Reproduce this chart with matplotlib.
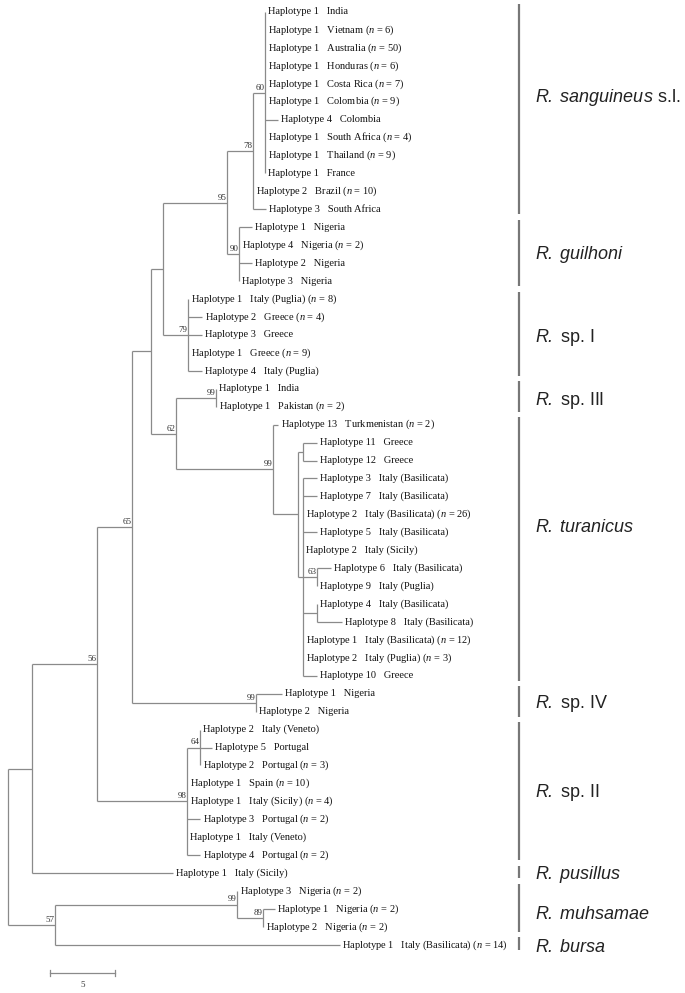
import matplotlib
matplotlib.use('Agg')
import matplotlib.pyplot as plt

plt.rcParams['font.family'] = ['Liberation Serif', 'DejaVu Serif']
plt.rcParams['mathtext.fontset'] = 'custom'
plt.rcParams['mathtext.rm'] = 'Liberation Serif'
plt.rcParams['mathtext.it'] = 'Liberation Serif:italic'
plt.rcParams['mathtext.sf'] = 'Liberation Sans:italic'

# --- leaves, top to bottom ---
HAPLO = [1, 1, 1, 1, 1, 1, 4, 1, 1, 1, 2, 3,
         1, 4, 2, 3,
         1, 2, 3, 1, 4,
         1, 1,
         13, 11, 12, 3, 7, 2, 5, 2, 6, 9, 4, 8, 1, 2, 10,
         1, 2,
         2, 5, 2, 1, 1, 3, 1, 4,
         1,
         3, 1, 2,
         1]
PLACE = ['India', 'Vietnam', 'Australia', 'Honduras', 'Costa Rica', 'Colombia', 'Colombia',
         'South Africa', 'Thailand', 'France', 'Brazil', 'South Africa',
         'Nigeria', 'Nigeria', 'Nigeria', 'Nigeria',
         'Italy (Puglia)', 'Greece', 'Greece', 'Greece', 'Italy (Puglia)',
         'India', 'Pakistan',
         'Turkmenistan', 'Greece', 'Greece', 'Italy (Basilicata)', 'Italy (Basilicata)',
         'Italy (Basilicata)', 'Italy (Basilicata)', 'Italy (Sicily)', 'Italy (Basilicata)',
         'Italy (Puglia)', 'Italy (Basilicata)', 'Italy (Basilicata)', 'Italy (Basilicata)',
         'Italy (Puglia)', 'Greece',
         'Nigeria', 'Nigeria',
         'Italy (Veneto)', 'Portugal', 'Portugal', 'Spain', 'Italy (Sicily)', 'Portugal',
         'Italy (Veneto)', 'Portugal',
         'Italy (Sicily)',
         'Nigeria', 'Nigeria', 'Nigeria',
         'Italy (Basilicata)']
N_COUNT = [None, 6, 50, 6, 7, 9, None, 4, 9, None, 10, None,
           None, 2, None, None,
           8, 4, None, 9, None,
           None, 2,
           2, None, None, None, None, 26, None, None, None, None, None, None, 12, 3, None,
           None, None,
           None, None, 3, 10, 4, 2, None, 2,
           None,
           2, 2, 2,
           14]
# distance of each leaf from the root (substitution units)
LEAF_DEPTH = [19.77, 19.77, 19.77, 19.77, 19.77, 19.77, 20.77, 19.77, 19.77, 19.77, 18.85, 19.85,
              18.77, 17.77, 18.77, 17.77,
              13.85, 14.92, 14.92, 13.85, 14.92,
              16.0, 16.0,
              20.8, 23.77, 23.77, 23.77, 23.77, 22.7, 23.77, 22.7, 24.85, 23.77, 23.77, 25.7,
              22.7, 22.7, 23.77,
              21.08, 19.1,
              14.77, 15.7, 14.77, 13.77, 13.77, 14.77, 13.77, 14.77,
              12.7,
              17.6, 20.5, 19.6,
              25.5]

# internal nodes: name, depth, children (leaf index or node name), bootstrap
NODES = [
    ('n60', 19.77, [0, 1, 2, 3, 4, 5, 6, 7, 8, 9], 60),
    ('n78', 18.85, ['n60', 10, 11], 78),
    ('nGui', 17.77, [12, 13, 14, 15], 90),
    ('n95', 16.85, ['n78', 'nGui'], 95),
    ('nSp1', 13.85, [16, 17, 18, 19, 20], 79),
    ('nC', 11.92, ['n95', 'nSp1'], None),
    ('nSp3', 16.0, [21, 22], 99),
    ('n1112', 22.7, [24, 25], None),
    ('n63', 23.77, [31, 32], 63),
    ('n48', 23.77, [33, 34], None),
    ('nPoly', 22.7, [26, 27, 28, 29, 30, 'n63', 'n48', 35, 36, 37], None),
    ('nT2', 22.3, ['n1112', 'nPoly'], None),
    ('nTur', 20.38, [23, 'nT2'], 99),
    ('n62', 12.92, ['nSp3', 'nTur'], 62),
    ('nB', 11.0, ['nC', 'n62'], None),
    ('nSp4', 19.1, [38, 39], 99),
    ('n65', 9.54, ['nB', 'nSp4'], 65),
    ('n64', 14.77, [40, 41, 42], 64),
    ('nSp2', 13.77, ['n64', 43, 44, 45, 46, 47], 98),
    ('n56', 6.85, ['n65', 'nSp2'], 56),
    ('nA', 1.85, ['n56', 48], None),
    ('n89', 19.6, [50, 51], 89),
    ('nMuh', 17.6, [49, 'n89'], 99),
    ('n57', 3.62, ['nMuh', 52], 57),
    ('root', 0.0, ['nA', 'n57'], None),
]

CLADES = [r'$\mathsf{R.\ sanguineus}$ s.l.', r'$\mathsf{R.\ guilhoni}$', r'$\mathsf{R.}$ sp. I',
          r'$\mathsf{R.}$ sp. III', r'$\mathsf{R.\ turanicus}$', r'$\mathsf{R.}$ sp. IV',
          r'$\mathsf{R.}$ sp. II', r'$\mathsf{R.\ pusillus}$', r'$\mathsf{R.\ muhsamae}$',
          r'$\mathsf{R.\ bursa}$']
CLADE_SIZE = [12, 4, 5, 2, 15, 2, 8, 1, 3, 1]
CLADE_LABEL_Y = [4.74, 13.49, 18.17, 21.63, 28.76, 38.57, 43.53, 48.1, 50.28, 52.17]

SCALE_LEN = 5

# --- layout (1 unit = 13 px, 1 leaf = 17.94 px) ---
W, H = 685, 993
PX_X = 13.0
PX_Y = 17.94
fig = plt.figure(figsize=(W / 100, H / 100), dpi=100)
fig.patch.set_facecolor('white')
ax = fig.add_axes([0, 0, 1, 1])
ax.set_xlim(-8 / PX_X, (W - 8) / PX_X)
ax.set_ylim((H - 12) / PX_Y, -12 / PX_Y)
ax.axis('off')

LINE = '#8a8a8a'
LW = 0.9

node_map = {n[0]: n for n in NODES}
pos = {}


def place(key):
    if isinstance(key, int):
        return LEAF_DEPTH[key], float(key)
    if key in pos:
        return pos[key]
    name, depth, kids, sup = node_map[key]
    ys = [place(k)[1] for k in kids]
    pos[key] = (depth, (ys[0] + ys[-1]) / 2)
    return pos[key]


place('root')

for name, depth, kids, sup in NODES:
    x, y = pos[name]
    kid_pos = [place(k) for k in kids]
    ax.plot([x, x], [kid_pos[0][1], kid_pos[-1][1]], color=LINE, lw=LW, solid_capstyle='butt')
    for kx, ky in kid_pos:
        if kx > x:
            ax.plot([x, kx], [ky, ky], color=LINE, lw=LW, solid_capstyle='butt')
    if sup is not None:
        ax.text(x - 0.03, y - 0.06, str(sup), fontsize=6.5, ha='right', va='bottom',
                color='#333333')

# leaf labels
for i in range(len(HAPLO)):
    s = f'Haplotype {HAPLO[i]}   {PLACE[i]}'
    if N_COUNT[i] is not None:
        s += f' ($n$ = {N_COUNT[i]})'
    ax.text(LEAF_DEPTH[i] + 0.22, i, s, fontsize=7.5, ha='left', va='center', color='#111111')

# clade bars and names
BAR_X = (519 - 8) / PX_X
start = 0
for name, size, ly in zip(CLADES, CLADE_SIZE, CLADE_LABEL_Y):
    end = start + size - 1
    ax.plot([BAR_X, BAR_X], [start - 0.42, end + 0.28], color='#777777', lw=1.6,
            solid_capstyle='butt')
    ax.text(BAR_X + 1.22, ly, name, fontsize=13, family='Liberation Sans',
            ha='left', va='center', color='#222222')
    start = end + 1

# scale bar
sb_x0 = (50 - 8) / PX_X
sb_y = (973 - 12) / PX_Y
ax.plot([sb_x0, sb_x0 + SCALE_LEN], [sb_y, sb_y], color=LINE, lw=LW)
for xx in (sb_x0, sb_x0 + SCALE_LEN):
    ax.plot([xx, xx], [sb_y - 0.17, sb_y + 0.17], color=LINE, lw=LW)
ax.text(sb_x0 + SCALE_LEN / 2, sb_y + 0.45, str(SCALE_LEN), fontsize=6.5, ha='center',
        va='top', color='#333333')

fig.savefig('out.png', dpi=100, facecolor='white')
plt.close()
